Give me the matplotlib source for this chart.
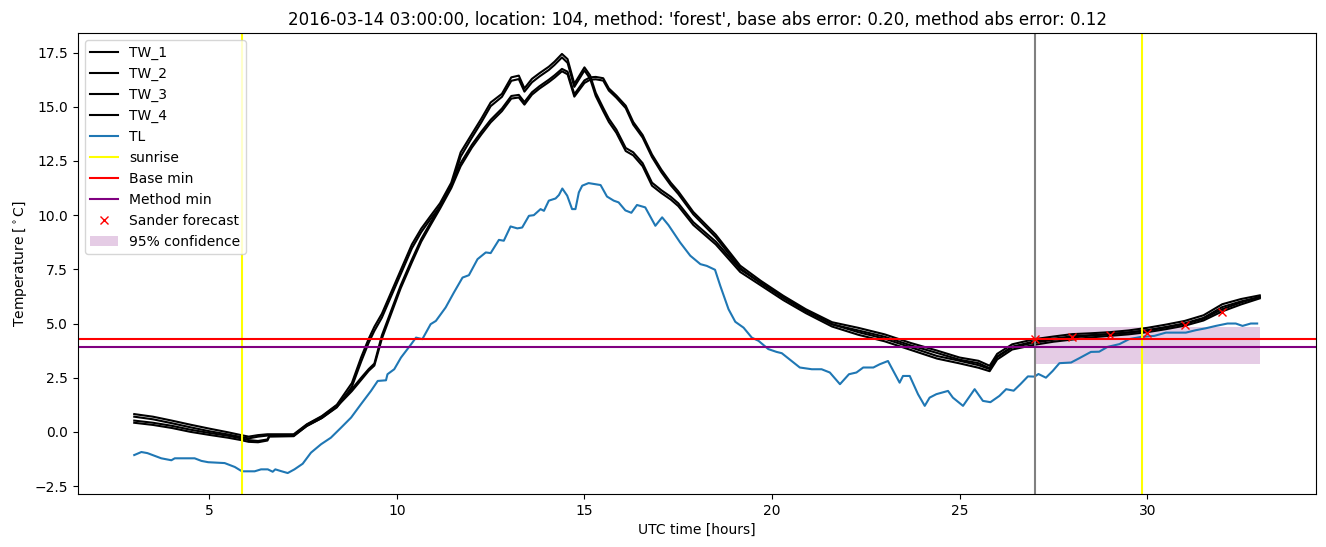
import matplotlib
matplotlib.use("Agg")
import matplotlib.pyplot as plt

# ---------------- data ----------------
t_tw = [3.0, 3.5, 4.0, 4.5, 5.0, 5.5, 5.85, 6.05, 6.3, 6.55, 6.6, 7.25, 7.6, 8.0, 8.4, 8.8,
        9.05, 9.25, 9.4, 9.6, 9.85, 10.1, 10.4, 10.65, 10.9, 11.15, 11.45, 11.7, 12.0, 12.25,
        12.5, 12.8, 13.05, 13.25, 13.4, 13.6, 13.8, 14.05, 14.2, 14.4, 14.55, 14.73, 15.0,
        15.15, 15.3, 15.5, 15.65, 15.85, 16.1, 16.3, 16.55, 16.8, 17.05, 17.3, 17.5, 17.9,
        18.5, 19.15, 19.7, 20.3, 20.9, 21.6, 22.3, 23.0, 23.7, 24.4, 25.0, 25.5, 25.8, 26.0,
        26.4, 27.0, 27.5, 28.0, 28.5, 29.0, 29.5, 30.0, 30.5, 31.0, 31.5, 32.0, 32.5, 33.0]

tw_1 = [0.82, 0.70, 0.52, 0.33, 0.15, -0.02,
        -0.15, -0.22, -0.15, -0.11, -0.11,
        -0.11, 0.35, 0.73, 1.25, 2.25,
        3.45, 4.30, 4.85, 5.45, 6.45,
        7.45, 8.65, 9.38, 9.97, 10.55,
        11.50, 12.90, 13.75, 14.45, 15.20,
        15.60, 16.36, 16.44, 15.85, 16.29,
        16.55, 16.85, 17.08, 17.44, 17.20,
        16.06, 16.82, 16.45, 15.65, 14.95,
        14.45, 13.95, 13.10, 12.90, 12.40,
        11.50, 11.15, 10.85, 10.55, 9.68,
        8.78, 7.50, 6.88, 6.20, 5.60,
        4.97, 4.60, 4.30, 3.90, 3.50,
        3.28, 3.08, 2.90, 3.45, 3.90,
        4.12, 4.25, 4.35, 4.45, 4.51,
        4.58, 4.68, 4.82, 4.98, 5.22,
        5.66, 5.97, 6.23]

tw_2 = [0.70, 0.58, 0.40, 0.21, 0.03, -0.12,
        -0.24, -0.30, -0.22, -0.17, -0.17,
        -0.17, 0.27, 0.64, 1.13, 2.08,
        3.25, 4.12, 4.66, 5.27, 6.27,
        7.27, 8.47, 9.22, 9.83, 10.40,
        11.33, 12.70, 13.58, 14.28, 15.03,
        15.46, 16.20, 16.28, 15.70, 16.13,
        16.40, 16.70, 16.93, 17.28, 17.03,
        15.92, 16.68, 16.30, 15.50, 14.80,
        14.30, 13.80, 12.96, 12.76, 12.26,
        11.36, 11.02, 10.72, 10.42, 9.55,
        8.65, 7.38, 6.76, 6.08, 5.48,
        4.86, 4.48, 4.18, 3.78, 3.38,
        3.16, 2.96, 2.80, 3.34, 3.80,
        4.02, 4.16, 4.26, 4.36, 4.43,
        4.50, 4.60, 4.74, 4.90, 5.14,
        5.56, 5.88, 6.16]

tw_3 = [0.52, 0.42, 0.28, 0.10, -0.05, -0.18,
        -0.30, -0.38, -0.42, -0.35, -0.18,
        -0.15, 0.33, 0.70, 1.22, 1.97,
        2.50, 2.90, 3.15, 4.45, 5.60,
        6.75, 7.95, 8.90, 9.66, 10.40,
        11.36, 12.40, 13.25, 13.85, 14.40,
        14.92, 15.50, 15.55, 15.22, 15.67,
        15.95, 16.25, 16.45, 16.75, 16.62,
        15.58, 16.22, 16.36, 16.38, 16.32,
        15.85, 15.52, 15.05, 14.30, 13.70,
        12.80, 12.10, 11.50, 11.10, 10.15,
        9.10, 7.67, 6.97, 6.28, 5.66,
        5.06, 4.80, 4.50, 4.10, 3.75,
        3.43, 3.28, 3.05, 3.60, 4.04,
        4.28, 4.40, 4.51, 4.55, 4.60,
        4.68, 4.80, 4.95, 5.12, 5.38,
        5.89, 6.13, 6.30]

tw_4 = [0.42, 0.32, 0.18, 0.00, -0.14, -0.27,
        -0.38, -0.46, -0.48, -0.40, -0.22,
        -0.20, 0.28, 0.64, 1.16, 1.88,
        2.40, 2.82, 3.06, 4.30, 5.46,
        6.62, 7.82, 8.78, 9.55, 10.30,
        11.25, 12.26, 13.12, 13.72, 14.28,
        14.80, 15.38, 15.43, 15.10, 15.56,
        15.84, 16.14, 16.34, 16.64, 16.50,
        15.47, 16.10, 16.25, 16.27, 16.21,
        15.75, 15.42, 14.94, 14.18, 13.58,
        12.68, 11.98, 11.38, 10.98, 10.04,
        8.98, 7.56, 6.86, 6.18, 5.56,
        4.96, 4.68, 4.39, 3.99, 3.64,
        3.33, 3.17, 2.94, 3.48, 3.93,
        4.18, 4.30, 4.41, 4.46, 4.51,
        4.59, 4.69, 4.84, 5.01, 5.26,
        5.76, 6.02, 6.22]

t_tl = [3.0, 3.19, 3.35, 3.55, 3.72, 3.99, 4.08, 4.61, 4.79, 4.97, 5.41, 5.68, 5.87, 6.21,
        6.38, 6.56, 6.69, 6.76, 6.91, 7.09, 7.27, 7.49, 7.71, 7.98, 8.24, 8.51, 8.78, 9.04,
        9.31, 9.49, 9.71, 9.75, 9.93, 10.11, 10.37, 10.51, 10.68, 10.90, 11.04, 11.30, 11.52,
        11.75, 11.92, 12.15, 12.37, 12.50, 12.72, 12.85, 13.03, 13.21, 13.34, 13.52, 13.65,
        13.83, 13.92, 14.05, 14.23, 14.32, 14.41, 14.54, 14.67, 14.76, 14.85, 14.94, 15.11,
        15.25, 15.43, 15.60, 15.78, 15.91, 16.09, 16.25, 16.40, 16.62, 16.89, 17.07, 17.24,
        17.55, 17.82, 18.09, 18.26, 18.48, 18.62, 18.84, 19.02, 19.24, 19.46, 19.64, 19.90,
        20.12, 20.26, 20.52, 20.74, 21.06, 21.32, 21.54, 21.81, 22.05, 22.25, 22.43, 22.70,
        22.87, 23.09, 23.40, 23.49, 23.67, 23.89, 24.07, 24.20, 24.38, 24.69, 24.82, 25.09,
        25.40, 25.62, 25.82, 26.06, 26.24, 26.44, 26.62, 26.82, 27.00, 27.10, 27.30, 27.48,
        27.66, 27.97, 28.19, 28.50, 28.72, 28.94, 29.26, 29.52, 29.83, 30.19, 30.50, 31.03,
        31.29, 31.56, 31.83, 32.14, 32.36, 32.54, 32.76, 32.93]

tl = [-1.07, -0.93, -0.98, -1.11, -1.22, -1.31, -1.22, -1.22, -1.34, -1.40, -1.44, -1.62,
      -1.82, -1.82, -1.73, -1.73, -1.84, -1.73, -1.81, -1.90, -1.73, -1.47, -0.96, -0.57,
      -0.27, 0.19, 0.66, 1.27, 1.89, 2.35, 2.38, 2.66, 2.89, 3.43, 4.02, 4.35, 4.28, 4.97,
      5.12, 5.74, 6.43, 7.12, 7.23, 7.97, 8.28, 8.25, 8.86, 8.82, 9.48, 9.39, 9.43, 9.97,
      10.00, 10.28, 10.20, 10.67, 10.77, 10.93, 11.23, 10.90, 10.28, 10.28, 11.05, 11.36,
      11.48, 11.44, 11.39, 10.86, 10.67, 10.59, 10.22, 10.11, 10.47, 10.36, 9.51, 9.90,
      9.54, 8.74, 8.13, 7.74, 7.66, 7.48, 6.74, 5.66, 5.08, 4.81, 4.35, 4.20, 3.82, 3.69,
      3.63, 3.27, 2.97, 2.89, 2.89, 2.74, 2.20, 2.66, 2.74, 2.97, 2.97, 3.12, 3.27, 2.27,
      2.58, 2.58, 1.74, 1.20, 1.58, 1.74, 1.89, 1.58, 1.20, 1.97, 1.43, 1.37, 1.66, 1.97,
      1.90, 2.20, 2.56, 2.55, 2.67, 2.50, 2.81, 3.17, 3.20, 3.40, 3.69, 3.70, 3.92, 4.05,
      4.28, 4.38, 4.43, 4.58, 4.58, 4.69, 4.78, 4.89, 5.00, 5.00, 4.89, 5.00, 5.00]

sunrise_times = [5.88, 29.86]
forecast_time = 27.0
base_min = 4.29
method_min = 3.92
sander_t = [27, 28, 29, 30, 31, 32]
sander_v = [4.28, 4.38, 4.47, 4.57, 4.94, 5.55]
conf_t = [27.0, 33.0]
conf_lo = [3.15, 3.15]
conf_hi = [4.85, 4.85]

title = ("2016-03-14 03:00:00, location: 104, method: 'forest', "
         "base abs error: 0.20, method abs error: 0.12")

# ---------------- plot ----------------
fig = plt.figure(figsize=(13.26, 5.47), dpi=100)
ax = fig.add_axes([0.0588, 0.0969, 0.9337, 0.8428])

for name, vals in [("TW_1", tw_1), ("TW_2", tw_2), ("TW_3", tw_3), ("TW_4", tw_4)]:
    ax.plot(t_tw, vals, color="black", label=name)
ax.plot(t_tl, tl, color="C0", label="TL")
ax.axvline(forecast_time, color="gray")
ax.axvline(sunrise_times[0], color="yellow", label="sunrise")
ax.axvline(sunrise_times[1], color="yellow")
ax.axhline(base_min, color="red", label="Base min")
ax.axhline(method_min, color="purple", label="Method min")
ax.plot(sander_t, sander_v, "x", color="red", label="Sander forecast")
ax.fill_between(conf_t, conf_lo, conf_hi, color="purple", alpha=0.2, linewidth=0,
                label="95% confidence")

ax.set_title(title)
ax.set_xlabel("UTC time [hours]")
ax.set_ylabel("Temperature [$^\\circ$C]")
ax.legend(loc="upper left")

fig.savefig("out.png", dpi=100)
